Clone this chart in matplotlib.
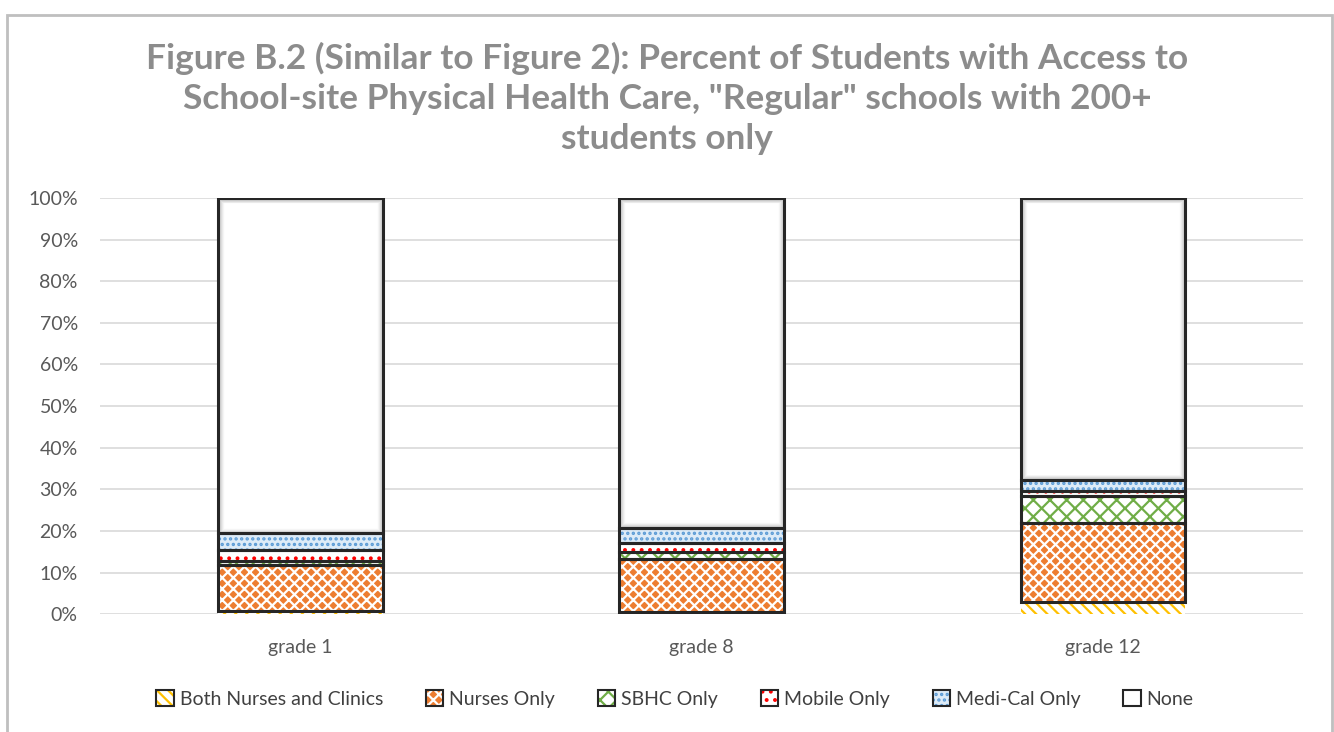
import matplotlib.pyplot as plt
import matplotlib.patches as mpatches
from matplotlib.legend_handler import HandlerTuple
from matplotlib.ticker import PercentFormatter

plt.rcParams['font.family'] = ['Lato', 'DejaVu Sans']
plt.rcParams['hatch.linewidth'] = 1.6

grades = ['grade 1', 'grade 8', 'grade 12']
both = [0.8, 0.5, 2.8]
nurses = [11.0, 12.7, 19.0]
sbhc = [0.9, 1.7, 6.7]
mobile = [2.6, 2.1, 1.2]
medical = [4.1, 3.8, 2.6]
none = [100 - sum(v) for v in zip(both, nurses, sbhc, mobile, medical)]

names = ['Both Nurses and Clinics', 'Nurses Only', 'SBHC Only',
         'Mobile Only', 'Medi-Cal Only', 'None']
series = [both, nurses, sbhc, mobile, medical, none]
faces = ['white', '#ED7D31', 'white', 'white', '#DDEBF7', 'white']
hcols = ['#FFC000', 'white', '#70AD47', '#FF0000', '#5B9BD5', 'white']
hatches = ['\\\\\\', 'xxx', 'xx', '..', '...', '']
edges = ['none', '#262626', '#262626', '#262626', '#262626', '#262626']

fig = plt.figure(figsize=(13.34, 7.32), dpi=100)
ax = fig.add_axes([0.075, 0.161, 0.902, 0.5685])

x = range(len(grades))
w = 0.41
bottom = [0, 0, 0]
for vals, fc, hc, h, ec in zip(series, faces, hcols, hatches, edges):
    ax.bar(x, [v / 100 for v in vals], w, bottom=bottom, color=fc,
           hatch=h, edgecolor=hc, linewidth=0, zorder=2)
    if h == '':
        # soft bevel look on the "None" block
        for k in range(1, 6):
            ax.bar(x, [v / 100 - 0.004 * k for v in vals], w - 0.005 * k,
                   bottom=[b + 0.002 * k for b in bottom], color='none',
                   edgecolor='#808080', alpha=0.22 - 0.04 * k, linewidth=2, zorder=2.5)
    ax.bar(x, [v / 100 for v in vals], w, bottom=bottom, color='none',
           edgecolor=ec, linewidth=2.2, zorder=3)
    bottom = [b + v / 100 for b, v in zip(bottom, vals)]

ax.set_ylim(0, 1)
ax.set_xlim(-0.5, 2.5)
ax.set_yticks([i / 10 for i in range(11)])
ax.yaxis.set_major_formatter(PercentFormatter(1.0, decimals=0))
ax.set_xticks(list(x))
ax.set_xticklabels(grades)
ax.tick_params(axis='both', length=0, labelsize=14, colors='#595959')
ax.tick_params(axis='x', pad=18)
ax.tick_params(axis='y', pad=16)
ax.grid(axis='y', color='#d9d9d9', linewidth=1.2, zorder=0)
for s in ax.spines.values():
    s.set_visible(False)

fig.text(0.5, 0.8654, 'Figure B.2 (Similar to Figure 2): Percent of Students with Access to\n'
         'School-site Physical Health Care, "Regular" schools with 200+\nstudents only',
         ha='center', va='center', fontsize=25.4, fontweight='bold',
         color='#8c8c8c', linespacing=1.32)

handles = []
for n, fc, hc, h in zip(names, faces, hcols, hatches):
    inner = mpatches.Patch(facecolor=fc, edgecolor=hc, hatch=h, linewidth=0)
    outer = mpatches.Patch(facecolor='none', edgecolor='#262626', linewidth=1.5)
    handles.append((inner, outer))
leg = fig.legend(handles=handles, labels=names, loc='center', bbox_to_anchor=(0.506, 0.045),
                 ncol=6, frameon=False, fontsize=14, handlelength=0.9, handleheight=0.9,
                 handletextpad=0.3, columnspacing=2.2,
                 handler_map={tuple: HandlerTuple(ndivide=1)})
for t in leg.get_texts():
    t.set_color('#404040')

fig.patches.append(mpatches.Rectangle((7 / 1334, -0.05), 1325 / 1334, 1.04 - 8 / 732,
                                      transform=fig.transFigure, fill=False,
                                      edgecolor='#bfbfbf', linewidth=2))

fig.savefig('out.png', dpi=100)
